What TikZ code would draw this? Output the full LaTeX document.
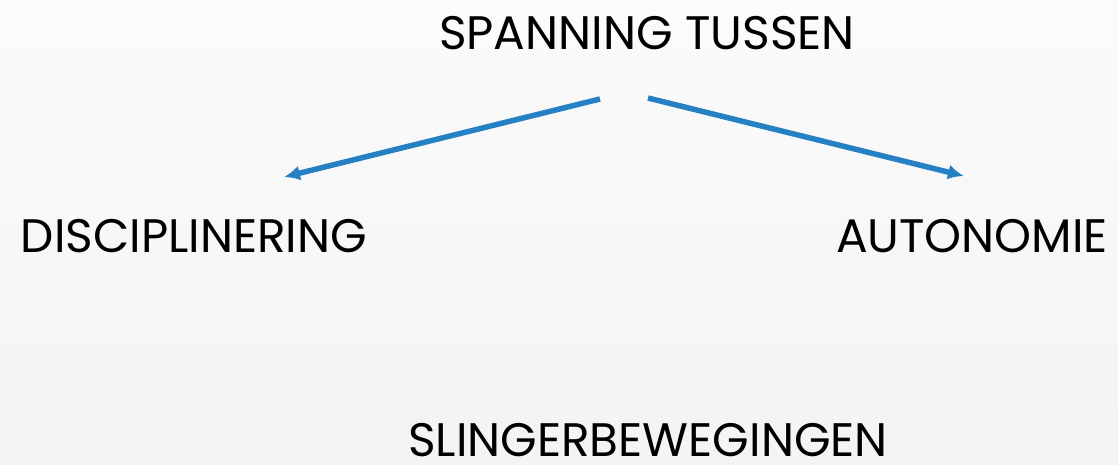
\documentclass[tikz,border=0pt]{standalone}
\usepackage{fontspec}
\setmainfont{Poppins}
\usetikzlibrary{arrows.meta}
\definecolor{pijlblauw}{HTML}{2581C4}
\tikzset{
  woord/.style={inner sep=0pt, anchor=base, font=\fontsize{47}{56}\selectfont},
  pijl/.style={pijlblauw, line width=5.5pt, -{Latex[length=16pt,width=15pt]}}
}
\begin{document}
\begin{tikzpicture}[x=1pt, y=-1pt]
    \useasboundingbox (0,0) rectangle (1118,465);
    \shade[top color=gray!3, bottom color=gray!9] (0,0) rectangle (1118,465);

    \node[woord] (spanning) at (647,50) {SPANNING TUSSEN};
    \node[woord] (discipline) at (194,252) {DISCIPLINERING};
    \node[woord] (autonomie) at (972,252) {AUTONOMIE};
    \node[woord] (slinger) at (648,456) {SLINGERBEWEGINGEN};

    \coordinate (links) at (600,99);
    \coordinate (rechts) at (648,98);
    \coordinate (disc-top) at (284,177);
    \coordinate (auto-top) at (964,176);

    \draw[pijl] (links) -- (disc-top);
    \draw[pijl] (rechts) -- (auto-top);
  \end{tikzpicture}
\end{document}
